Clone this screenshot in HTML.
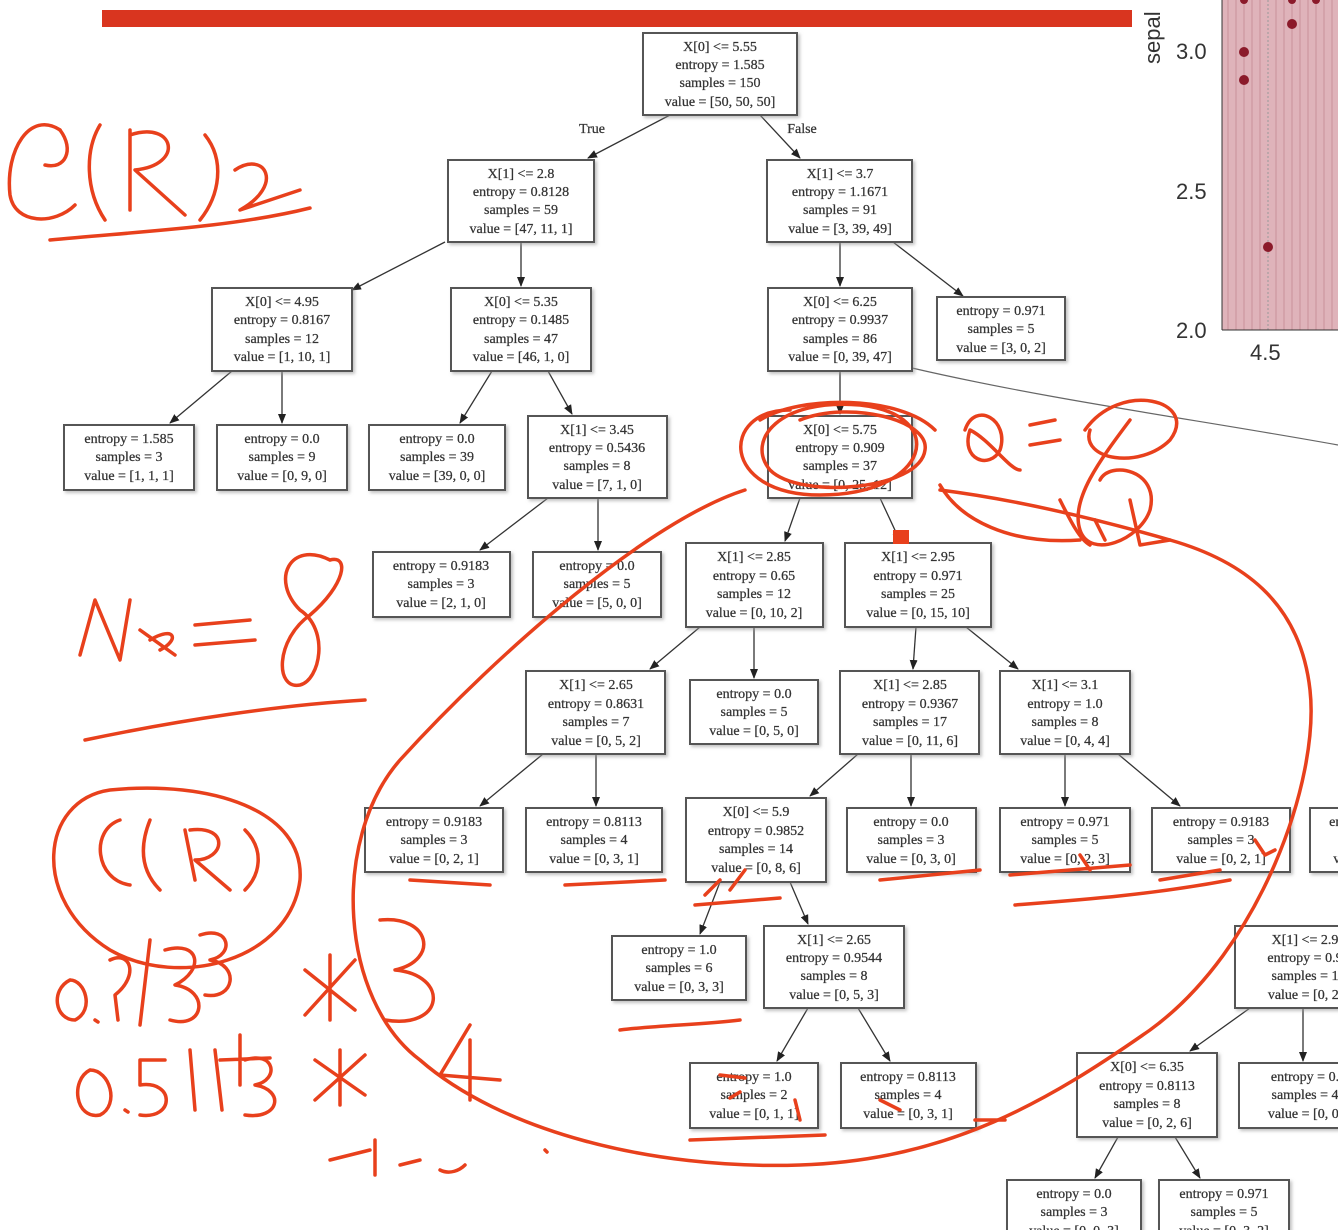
<!DOCTYPE html>
<html><head><meta charset="utf-8"><style>
html,body{margin:0;padding:0;background:#fff;width:1338px;height:1230px;overflow:hidden}
svg{display:block}
.b{fill:#fff;stroke:#555;stroke-width:2;filter:url(#sh)}
.t{font-family:"Liberation Serif",serif;font-size:14px;fill:#333;text-anchor:middle;stroke:#333;stroke-width:0.25}
.e{stroke:#333;stroke-width:1.3;fill:none;marker-end:url(#a)}
.r{stroke:#e8401c;stroke-width:3.5;fill:none;stroke-linecap:round;stroke-linejoin:round}
</style></head><body>
<svg width="1338" height="1230" viewBox="0 0 1338 1230" xmlns="http://www.w3.org/2000/svg">
<defs><marker id="a" markerWidth="10" markerHeight="10" refX="9" refY="5" orient="auto" markerUnits="userSpaceOnUse"><path d="M0,1 L10,5 L0,9 z" fill="#222"/></marker>
<filter id="sh" x="-5%" y="-5%" width="115%" height="120%"><feDropShadow dx="2" dy="2" stdDeviation="1.5" flood-color="#999" flood-opacity="0.6"/></filter></defs>
<rect x="102" y="10" width="1030" height="17" fill="#d9351f"/>
<!-- plot -->
<rect x="1222" y="0" width="116" height="330" fill="#dfb3ba"/>
<g stroke="#c8909a" stroke-width="1">
<line x1="1228" y1="0" x2="1228" y2="330"/><line x1="1236" y1="0" x2="1236" y2="330"/><line x1="1244" y1="0" x2="1244" y2="330"/><line x1="1252" y1="0" x2="1252" y2="330"/><line x1="1260" y1="0" x2="1260" y2="330"/><line x1="1276" y1="0" x2="1276" y2="330"/><line x1="1284" y1="0" x2="1284" y2="330"/><line x1="1292" y1="0" x2="1292" y2="330"/><line x1="1300" y1="0" x2="1300" y2="330"/><line x1="1308" y1="0" x2="1308" y2="330"/><line x1="1316" y1="0" x2="1316" y2="330"/><line x1="1324" y1="0" x2="1324" y2="330"/><line x1="1332" y1="0" x2="1332" y2="330"/></g>
<line x1="1268" y1="0" x2="1268" y2="330" stroke="#999" stroke-dasharray="2,2"/>
<line x1="1222" y1="0" x2="1222" y2="330" stroke="#333"/>
<line x1="1222" y1="330" x2="1338" y2="330" stroke="#333"/>
<g fill="#8b1a2a"><circle cx="1244" cy="52" r="5"/><circle cx="1244" cy="80" r="5"/><circle cx="1292" cy="24" r="5"/><circle cx="1268" cy="247" r="5"/><circle cx="1244" cy="0" r="4"/><circle cx="1292" cy="0" r="4"/><circle cx="1316" cy="0" r="4"/></g>
<g font-family="Liberation Sans,sans-serif" font-size="22" fill="#333">
<text x="1176" y="59">3.0</text><text x="1176" y="199">2.5</text><text x="1176" y="338">2.0</text><text x="1250" y="360">4.5</text>
<text transform="translate(1160,64) rotate(-90)">sepal</text></g>
<path d="M912,368 C1050,400 1200,420 1338,445" stroke="#666" stroke-width="1.2" fill="none"/>
<!-- edges -->
<path class="e" d="M670,115 L588,158"/><path class="e" d="M760,115 L800,158"/>
<path class="e" d="M445,242 L352,290"/><path class="e" d="M521,242 L521,286"/>
<path class="e" d="M840,242 L840,286"/><path class="e" d="M893,242 L963,296"/>
<path class="e" d="M232,371 L170,423"/><path class="e" d="M282,371 L282,423"/>
<path class="e" d="M492,371 L460,423"/><path class="e" d="M548,371 L572,414"/>
<path class="e" d="M840,371 L840,414"/>
<path class="e" d="M800,498 L785,541"/><path class="e" d="M880,498 L900,541"/>
<path class="e" d="M548,498 L480,550"/><path class="e" d="M598,498 L598,550"/>
<path class="e" d="M700,627 L650,669"/><path class="e" d="M754,627 L754,678"/>
<path class="e" d="M916,627 L913,669"/><path class="e" d="M966,627 L1018,669"/>
<path class="e" d="M543,754 L480,806"/><path class="e" d="M596,754 L596,806"/>
<path class="e" d="M858,754 L810,796"/><path class="e" d="M911,754 L911,806"/>
<path class="e" d="M1065,754 L1065,806"/><path class="e" d="M1118,754 L1180,806"/>
<path class="e" d="M720,882 L700,934"/><path class="e" d="M790,882 L808,924"/>
<path class="e" d="M808,1008 L777,1061"/><path class="e" d="M858,1008 L890,1061"/>
<path class="e" d="M1250,1008 L1190,1051"/><path class="e" d="M1303,1008 L1303,1061"/>
<path class="e" d="M1118,1137 L1095,1178"/><path class="e" d="M1175,1137 L1200,1178"/>
<text class="t" x="592" y="133">True</text><text class="t" x="802" y="133">False</text>
<!-- nodes -->
<g id="n">
<rect class="b" x="643" y="33" width="154" height="82"/><text class="t" x="720" y="51">X[0] &lt;= 5.55</text><text class="t" x="720" y="69">entropy = 1.585</text><text class="t" x="720" y="87">samples = 150</text><text class="t" x="720" y="106">value = [50, 50, 50]</text>
<rect class="b" x="448" y="160" width="146" height="82"/><text class="t" x="521" y="178">X[1] &lt;= 2.8</text><text class="t" x="521" y="196">entropy = 0.8128</text><text class="t" x="521" y="214">samples = 59</text><text class="t" x="521" y="233">value = [47, 11, 1]</text>
<rect class="b" x="767" y="160" width="145" height="82"/><text class="t" x="840" y="178">X[1] &lt;= 3.7</text><text class="t" x="840" y="196">entropy = 1.1671</text><text class="t" x="840" y="214">samples = 91</text><text class="t" x="840" y="233">value = [3, 39, 49]</text>
<rect class="b" x="212" y="288" width="140" height="83"/><text class="t" x="282" y="306">X[0] &lt;= 4.95</text><text class="t" x="282" y="324">entropy = 0.8167</text><text class="t" x="282" y="343">samples = 12</text><text class="t" x="282" y="361">value = [1, 10, 1]</text>
<rect class="b" x="451" y="288" width="140" height="83"/><text class="t" x="521" y="306">X[0] &lt;= 5.35</text><text class="t" x="521" y="324">entropy = 0.1485</text><text class="t" x="521" y="343">samples = 47</text><text class="t" x="521" y="361">value = [46, 1, 0]</text>
<rect class="b" x="768" y="288" width="144" height="83"/><text class="t" x="840" y="306">X[0] &lt;= 6.25</text><text class="t" x="840" y="324">entropy = 0.9937</text><text class="t" x="840" y="343">samples = 86</text><text class="t" x="840" y="361">value = [0, 39, 47]</text>
<rect class="b" x="937" y="297" width="128" height="63"/><text class="t" x="1001" y="315">entropy = 0.971</text><text class="t" x="1001" y="333">samples = 5</text><text class="t" x="1001" y="352">value = [3, 0, 2]</text>
<rect class="b" x="64" y="425" width="130" height="65"/><text class="t" x="129" y="443">entropy = 1.585</text><text class="t" x="129" y="461">samples = 3</text><text class="t" x="129" y="480">value = [1, 1, 1]</text>
<rect class="b" x="217" y="425" width="130" height="65"/><text class="t" x="282" y="443">entropy = 0.0</text><text class="t" x="282" y="461">samples = 9</text><text class="t" x="282" y="480">value = [0, 9, 0]</text>
<rect class="b" x="369" y="425" width="136" height="65"/><text class="t" x="437" y="443">entropy = 0.0</text><text class="t" x="437" y="461">samples = 39</text><text class="t" x="437" y="480">value = [39, 0, 0]</text>
<rect class="b" x="528" y="416" width="139" height="82"/><text class="t" x="597" y="434">X[1] &lt;= 3.45</text><text class="t" x="597" y="452">entropy = 0.5436</text><text class="t" x="597" y="470">samples = 8</text><text class="t" x="597" y="489">value = [7, 1, 0]</text>
<rect class="b" x="768" y="416" width="144" height="82"/><text class="t" x="840" y="434">X[0] &lt;= 5.75</text><text class="t" x="840" y="452">entropy = 0.909</text><text class="t" x="840" y="470">samples = 37</text><text class="t" x="840" y="489">value = [0, 25, 12]</text>
<rect class="b" x="373" y="552" width="137" height="65"/><text class="t" x="441" y="570">entropy = 0.9183</text><text class="t" x="441" y="588">samples = 3</text><text class="t" x="441" y="607">value = [2, 1, 0]</text>
<rect class="b" x="533" y="552" width="128" height="65"/><text class="t" x="597" y="570">entropy = 0.0</text><text class="t" x="597" y="588">samples = 5</text><text class="t" x="597" y="607">value = [5, 0, 0]</text>
<rect class="b" x="686" y="543" width="137" height="84"/><text class="t" x="754" y="561">X[1] &lt;= 2.85</text><text class="t" x="754" y="580">entropy = 0.65</text><text class="t" x="754" y="598">samples = 12</text><text class="t" x="754" y="617">value = [0, 10, 2]</text>
<rect class="b" x="845" y="543" width="146" height="84"/><text class="t" x="918" y="561">X[1] &lt;= 2.95</text><text class="t" x="918" y="580">entropy = 0.971</text><text class="t" x="918" y="598">samples = 25</text><text class="t" x="918" y="617">value = [0, 15, 10]</text>
<rect class="b" x="526" y="671" width="139" height="83"/><text class="t" x="596" y="689">X[1] &lt;= 2.65</text><text class="t" x="596" y="708">entropy = 0.8631</text><text class="t" x="596" y="726">samples = 7</text><text class="t" x="596" y="745">value = [0, 5, 2]</text>
<rect class="b" x="690" y="680" width="128" height="64"/><text class="t" x="754" y="698">entropy = 0.0</text><text class="t" x="754" y="716">samples = 5</text><text class="t" x="754" y="735">value = [0, 5, 0]</text>
<rect class="b" x="840" y="671" width="139" height="83"/><text class="t" x="910" y="689">X[1] &lt;= 2.85</text><text class="t" x="910" y="708">entropy = 0.9367</text><text class="t" x="910" y="726">samples = 17</text><text class="t" x="910" y="745">value = [0, 11, 6]</text>
<rect class="b" x="1000" y="671" width="130" height="83"/><text class="t" x="1065" y="689">X[1] &lt;= 3.1</text><text class="t" x="1065" y="708">entropy = 1.0</text><text class="t" x="1065" y="726">samples = 8</text><text class="t" x="1065" y="745">value = [0, 4, 4]</text>
<rect class="b" x="365" y="808" width="138" height="64"/><text class="t" x="434" y="826">entropy = 0.9183</text><text class="t" x="434" y="844">samples = 3</text><text class="t" x="434" y="863">value = [0, 2, 1]</text>
<rect class="b" x="526" y="808" width="136" height="64"/><text class="t" x="594" y="826">entropy = 0.8113</text><text class="t" x="594" y="844">samples = 4</text><text class="t" x="594" y="863">value = [0, 3, 1]</text>
<rect class="b" x="686" y="798" width="140" height="84"/><text class="t" x="756" y="816">X[0] &lt;= 5.9</text><text class="t" x="756" y="835">entropy = 0.9852</text><text class="t" x="756" y="853">samples = 14</text><text class="t" x="756" y="872">value = [0, 8, 6]</text>
<rect class="b" x="847" y="808" width="129" height="64"/><text class="t" x="911" y="826">entropy = 0.0</text><text class="t" x="911" y="844">samples = 3</text><text class="t" x="911" y="863">value = [0, 3, 0]</text>
<rect class="b" x="1000" y="808" width="130" height="64"/><text class="t" x="1065" y="826">entropy = 0.971</text><text class="t" x="1065" y="844">samples = 5</text><text class="t" x="1065" y="863">value = [0, 2, 3]</text>
<rect class="b" x="1152" y="808" width="138" height="64"/><text class="t" x="1221" y="826">entropy = 0.9183</text><text class="t" x="1221" y="844">samples = 3</text><text class="t" x="1221" y="863">value = [0, 2, 1]</text>
<rect class="b" x="1310" y="808" width="60" height="64"/><text class="t" x="1340" y="826">entr</text><text class="t" x="1340" y="863">va</text>
<rect class="b" x="612" y="936" width="134" height="64"/><text class="t" x="679" y="954">entropy = 1.0</text><text class="t" x="679" y="972">samples = 6</text><text class="t" x="679" y="991">value = [0, 3, 3]</text>
<rect class="b" x="764" y="926" width="140" height="82"/><text class="t" x="834" y="944">X[1] &lt;= 2.65</text><text class="t" x="834" y="962">entropy = 0.9544</text><text class="t" x="834" y="980">samples = 8</text><text class="t" x="834" y="999">value = [0, 5, 3]</text>
<rect class="b" x="1235" y="926" width="140" height="82"/><text class="t" x="1305" y="944">X[1] &lt;= 2.9</text><text class="t" x="1305" y="962">entropy = 0.9</text><text class="t" x="1305" y="980">samples = 1</text><text class="t" x="1305" y="999">value = [0, 2,</text>
<rect class="b" x="690" y="1063" width="128" height="65"/><text class="t" x="754" y="1081">entropy = 1.0</text><text class="t" x="754" y="1099">samples = 2</text><text class="t" x="754" y="1118">value = [0, 1, 1]</text>
<rect class="b" x="841" y="1063" width="135" height="65"/><text class="t" x="908" y="1081">entropy = 0.8113</text><text class="t" x="908" y="1099">samples = 4</text><text class="t" x="908" y="1118">value = [0, 3, 1]</text>
<rect class="b" x="1077" y="1053" width="140" height="84"/><text class="t" x="1147" y="1071">X[0] &lt;= 6.35</text><text class="t" x="1147" y="1090">entropy = 0.8113</text><text class="t" x="1147" y="1108">samples = 8</text><text class="t" x="1147" y="1127">value = [0, 2, 6]</text>
<rect class="b" x="1239" y="1063" width="140" height="65"/><text class="t" x="1305" y="1081">entropy = 0.</text><text class="t" x="1305" y="1099">samples = 4</text><text class="t" x="1305" y="1118">value = [0, 0,</text>
<rect class="b" x="1007" y="1180" width="134" height="65"/><text class="t" x="1074" y="1198">entropy = 0.0</text><text class="t" x="1074" y="1216">samples = 3</text><text class="t" x="1074" y="1235">value = [0, 0, 3]</text>
<rect class="b" x="1159" y="1180" width="130" height="65"/><text class="t" x="1224" y="1198">entropy = 0.971</text><text class="t" x="1224" y="1216">samples = 5</text><text class="t" x="1224" y="1235">value = [0, 3, 2]</text>
</g>
<!-- red annotations -->
<g class="r">
<path d="M60,130 C30,110 5,150 10,195 C15,225 55,225 75,205"/>
<path d="M60,130 C75,150 65,170 45,165"/>
<path d="M100,125 C85,150 85,190 105,220"/>
<path d="M130,130 L130,210 M130,135 C175,120 185,165 135,170 L185,215"/>
<path d="M205,135 C225,160 220,195 200,220"/>
<path d="M235,170 C265,150 285,185 240,210 L300,190"/>
<path d="M50,240 C130,232 230,228 310,208"/>
<path d="M80,655 L95,600 L120,660 L130,600 M140,630 L175,655 M150,640 C175,625 180,640 160,650 M195,625 L250,620 M195,645 L255,640"/>
<path d="M330,560 C290,540 270,580 300,610 C330,630 320,680 300,685 C275,690 275,640 310,615 C345,585 350,555 330,560"/>
<path d="M85,740 C180,720 280,705 365,700"/>
<path d="M110,790 C40,800 30,900 110,950 C180,990 290,960 300,880 C305,810 210,780 110,790"/>
<path d="M120,820 C90,830 95,880 130,885 M150,820 C140,845 140,870 160,890 M185,830 L195,880 M190,830 C230,825 225,860 195,860 L230,890 M245,830 C265,850 260,875 245,890"/>
<path d="M70,980 C50,990 55,1020 75,1020 C95,1010 85,980 70,980 M95,1020 l3,2 M110,960 C130,950 140,975 115,995 L118,1020 M150,940 L140,1025 M165,950 C200,940 205,970 175,985 C210,990 205,1030 170,1020 M200,935 C230,925 235,955 210,960 C240,965 235,1000 205,995"/>
<path d="M305,970 L355,1010 M355,960 L305,1015 M330,955 L330,1020"/>
<path d="M380,920 C430,915 440,960 395,970 C450,975 445,1030 385,1020"/>
<path d="M240,1035 L240,1085 M220,1060 L270,1058"/>
<path d="M90,1070 C70,1080 75,1120 100,1115 C120,1105 110,1070 90,1070 M125,1110 l3,2 M165,1060 L140,1060 L140,1085 C175,1080 175,1120 140,1115 M190,1050 L195,1110 M215,1050 L222,1110 M245,1060 C275,1050 280,1080 255,1085 C285,1090 280,1120 245,1115"/>
<path d="M315,1060 L365,1095 M365,1055 L315,1100 M340,1050 L340,1105"/>
<path d="M470,1025 L440,1075 L500,1080 M470,1040 L470,1100"/>
<path d="M330,1160 L370,1150 M375,1140 L375,1175 M400,1165 L420,1160 M440,1170 C450,1175 460,1170 465,1165 M545,1150 l2,2"/>
<path d="M790,410 C720,410 720,495 820,495 C930,495 950,415 860,405 C780,398 745,440 770,470 C800,500 920,490 925,450 C930,420 850,400 800,420"/>
<path d="M760,420 C800,395 900,395 935,430"/>
<path d="M965,430 C975,400 1010,420 1000,450 C990,470 960,460 970,430 C990,440 1010,470 1020,470 M1030,425 L1055,420 M1030,445 L1060,440"/>
<path d="M1085,430 C1120,380 1200,400 1170,440 C1140,470 1080,460 1090,430 M1130,420 C1100,460 1070,500 1080,530 C1090,560 1140,540 1150,510 C1160,470 1110,460 1100,480"/>
<path d="M1095,520 L1105,540 M1130,500 L1140,545 L1170,540 M1060,500 C1070,520 1080,540 1090,545"/>
<path d="M745,490 C650,520 500,650 400,760 C330,840 340,1000 420,1060 C500,1130 650,1170 800,1165 C950,1160 1050,1100 1150,1030 C1260,950 1320,780 1310,690 C1300,600 1240,560 1170,540 C1100,520 1020,500 940,490"/>
<path d="M940,485 C960,520 1010,545 1080,540"/>
<path d="M410,880 L490,885 M565,885 L665,880 M695,905 L780,898 M880,880 L980,870 M1010,875 L1130,865 M1015,905 C1080,900 1150,895 1230,880 M1160,880 L1220,870 M1255,840 L1265,855 L1275,850 M1080,855 L1090,870 M620,1030 C660,1025 700,1025 740,1020 M690,1140 L825,1135 M720,1075 L745,1078 M740,1092 L730,1098 M795,1100 L800,1120 M880,1100 L900,1110 M975,1120 L1005,1120 M705,895 L720,880 M730,890 L745,870"/>
</g>
<rect x="893" y="530" width="16" height="14" fill="#e8401c"/>
</svg>
</body></html>
